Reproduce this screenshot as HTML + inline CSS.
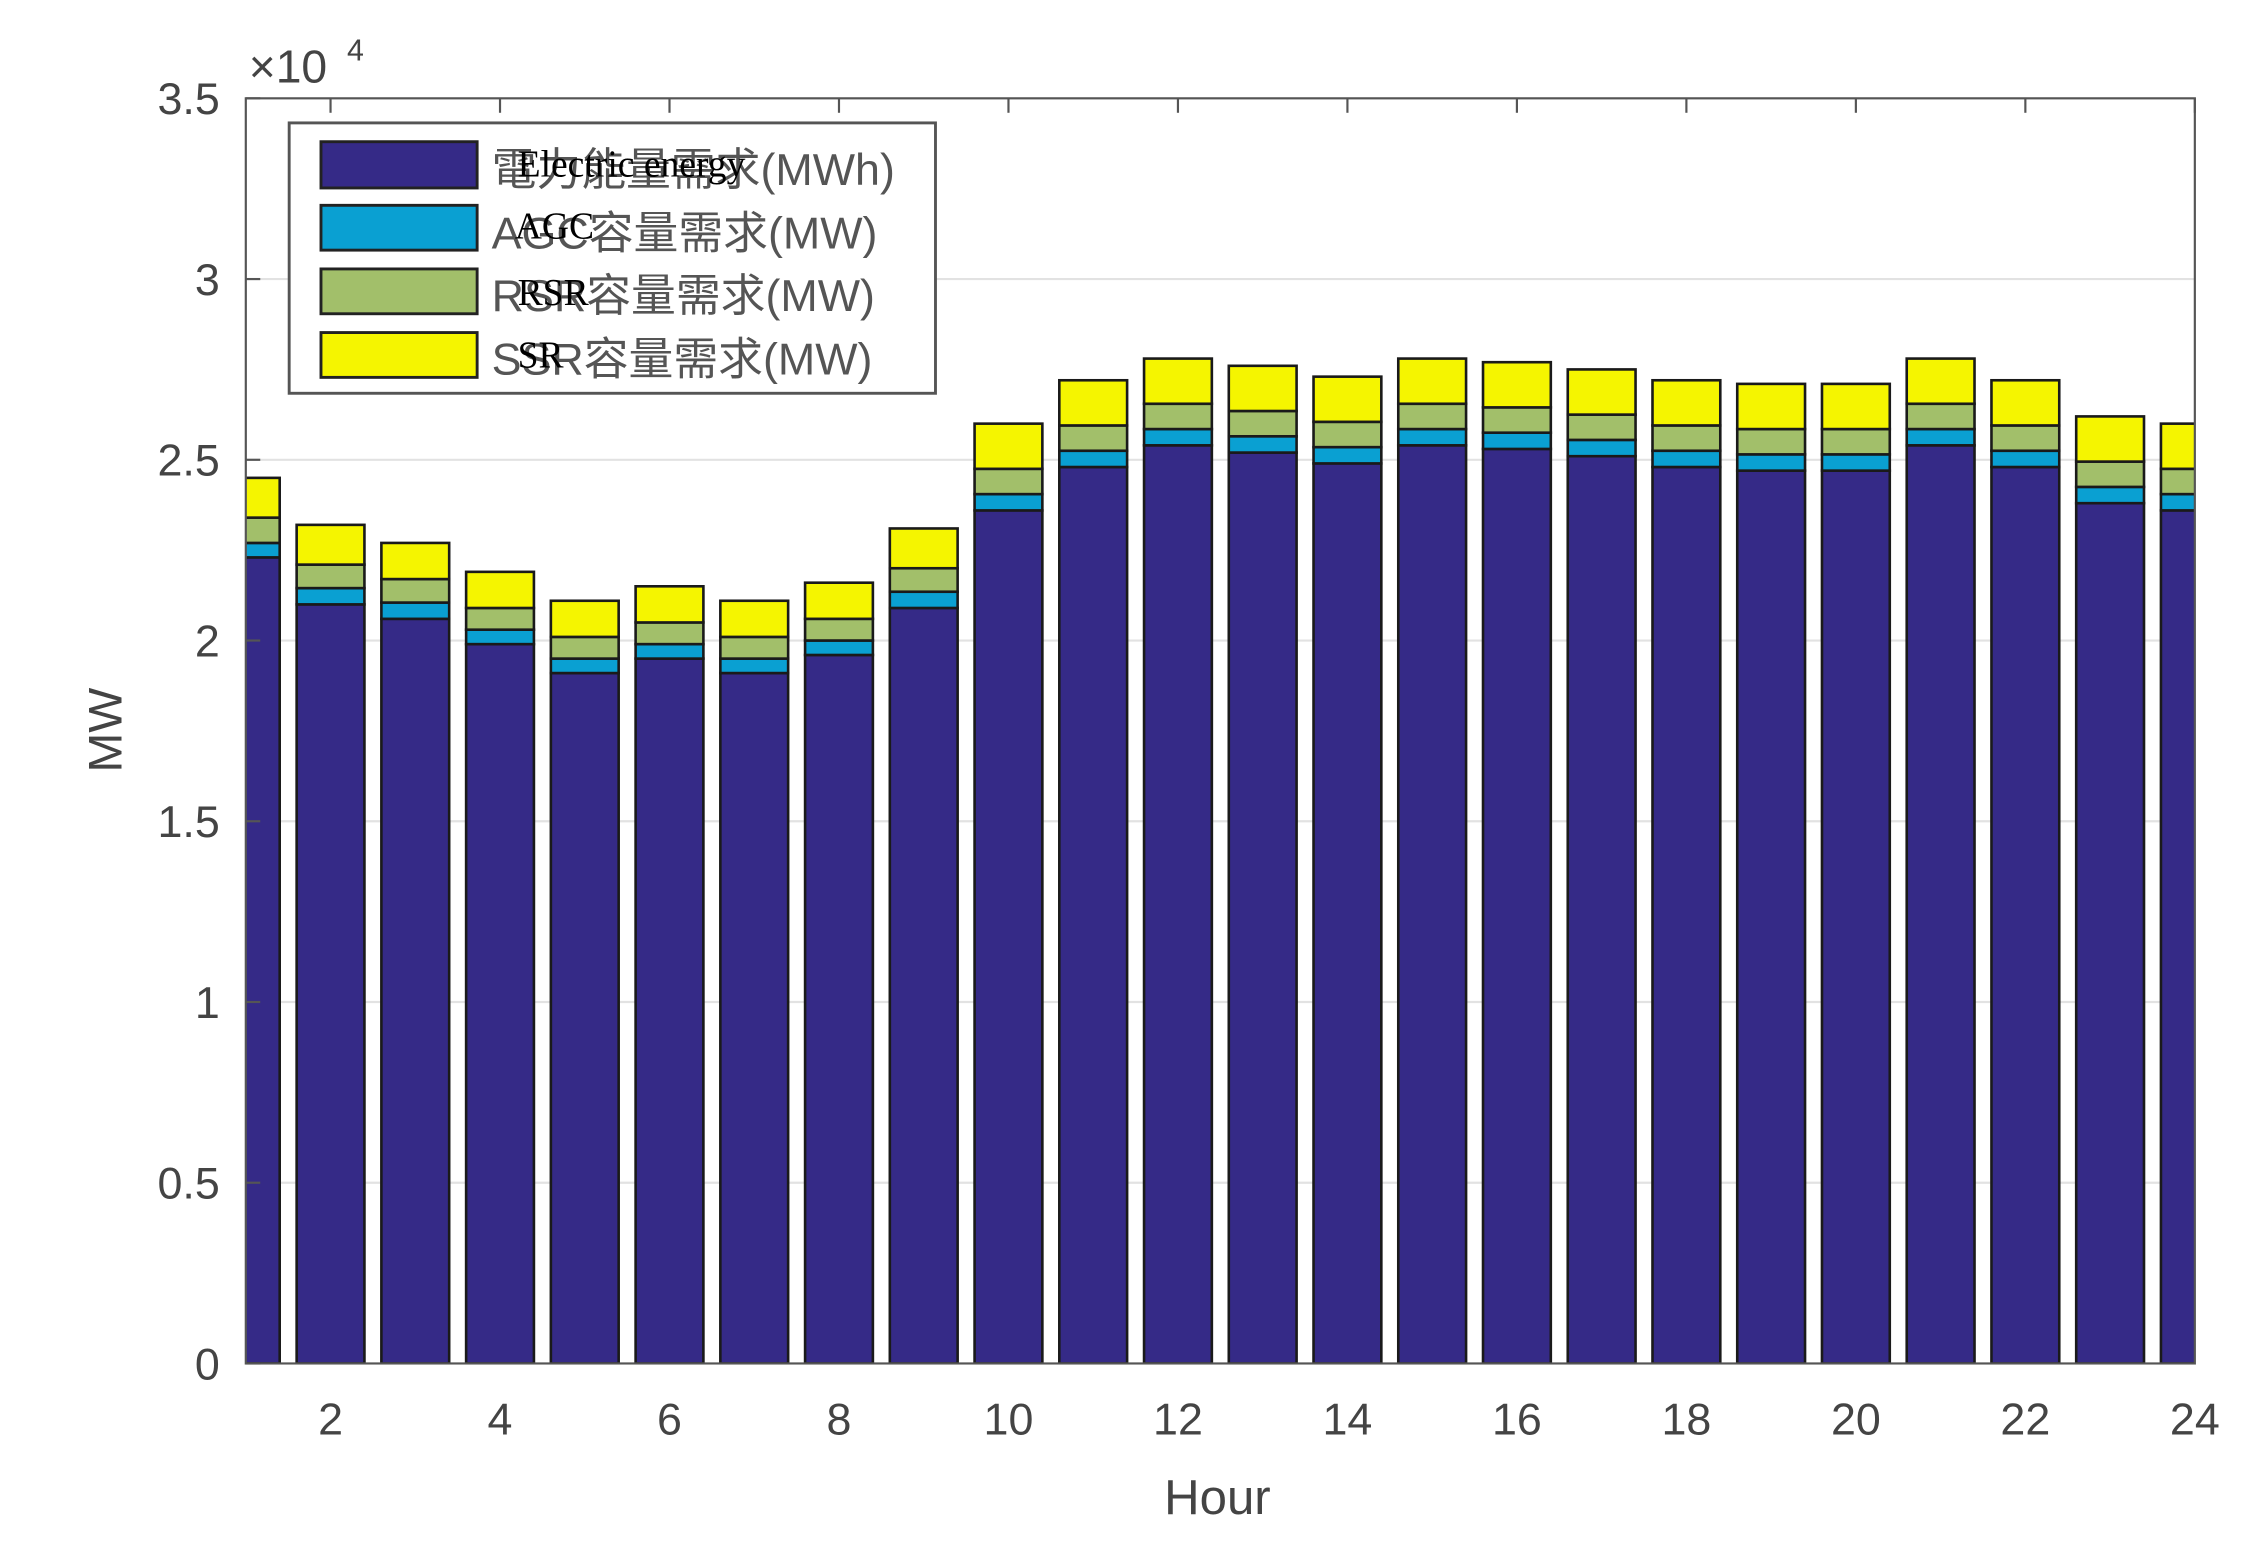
<!DOCTYPE html>
<html><head><meta charset="utf-8"><style>
html,body{margin:0;padding:0;background:#fff;}
svg{display:block;}
</style></head><body>
<svg id="chart" width="2244" height="1551" viewBox="0 0 1552 1072.7" xmlns="http://www.w3.org/2000/svg">
<rect x="0" y="0" width="1552" height="1073" fill="#fff"/>
<defs><clipPath id="plotclip"><rect x="170" y="68" width="1348" height="875"/></clipPath></defs>
<g id="grid"></g>
<g id="bars" clip-path="url(#plotclip)"></g>
<rect x="170" y="68" width="1348" height="875" fill="none" stroke="#555" stroke-width="1.5"/>
<g id="axes"></g>
<text x="172" y="57" font-family="Liberation Sans, sans-serif" font-size="32" fill="#444">×10</text>
<text x="240" y="42" font-family="Liberation Sans, sans-serif" font-size="21" fill="#444">4</text>
<text transform="translate(84,505) rotate(-90)" text-anchor="middle" font-family="Liberation Sans, sans-serif" font-size="33" fill="#444">MW</text>
<text x="842" y="1047" text-anchor="middle" font-family="Liberation Sans, sans-serif" font-size="34" fill="#444">Hour</text>
<g>
<rect x="200" y="85" width="447" height="187" fill="#fff" stroke="#555" stroke-width="2"/>
<g>
<rect x="222" y="98" width="108" height="32" fill="#352a87" stroke="#222" stroke-width="2"/>
<text x="340" y="128" font-family="Liberation Sans, Noto Sans CJK TC, sans-serif" font-size="31" fill="#555">電力能量需求(MWh)</text>
<text x="358" y="122" font-family="Liberation Serif, serif" font-size="26" fill="#000">Electric energy</text></g>
<g>
<rect x="222" y="142" width="108" height="31" fill="#0aa0d2" stroke="#222" stroke-width="2"/>
<text x="340" y="172" font-family="Liberation Sans, Noto Sans CJK TC, sans-serif" font-size="31" fill="#555">AGC容量需求(MW)</text>
<text x="356" y="165" font-family="Liberation Serif, serif" font-size="26" fill="#000">AGC</text></g>
<g>
<rect x="222" y="186" width="108" height="31" fill="#a2bf6a" stroke="#222" stroke-width="2"/>
<text x="340" y="215" font-family="Liberation Sans, Noto Sans CJK TC, sans-serif" font-size="31" fill="#555">RSR容量需求(MW)</text>
<text x="358" y="211" font-family="Liberation Serif, serif" font-size="26" fill="#000">RSR</text></g>
<g>
<rect x="222" y="230" width="108" height="31" fill="#f5f500" stroke="#222" stroke-width="2"/>
<text x="340" y="259" font-family="Liberation Sans, Noto Sans CJK TC, sans-serif" font-size="31" fill="#555">SSR容量需求(MW)</text>
<text x="358" y="254" font-family="Liberation Serif, serif" font-size="26" fill="#000">SR</text></g>
</g>
</svg>
<script>
const hours = [1,2,3,4,5,6,7,8,9,10,11,12,13,14,15,16,17,18,19,20,21,22,23,24];
const energy = [2.23,2.10,2.06,1.99,1.91,1.95,1.91,1.96,2.09,2.36,2.48,2.54,2.52,2.49,2.54,2.53,2.51,2.48,2.47,2.47,2.54,2.48,2.38,2.36];
const agc = [0.04,0.045,0.045,0.04,0.04,0.04,0.04,0.04,0.045,0.045,0.045,0.045,0.045,0.045,0.045,0.045,0.045,0.045,0.045,0.045,0.045,0.045,0.045,0.045];
const rsr = [0.07,0.065,0.065,0.06,0.06,0.06,0.06,0.06,0.065,0.07,0.07,0.07,0.07,0.07,0.07,0.07,0.07,0.07,0.07,0.07,0.07,0.07,0.07,0.07];
const ssr = [0.11,0.11,0.10,0.10,0.10,0.10,0.10,0.10,0.11,0.125,0.125,0.125,0.125,0.125,0.125,0.125,0.125,0.125,0.125,0.125,0.125,0.125,0.125,0.125];
const yTicks = [0,0.5,1,1.5,2,2.5,3,3.5];
const yTickLabels = ["0","0.5","1","1.5","2","2.5","3","3.5"];
const xTicks = [2,4,6,8,10,12,14,16,18,20,22,24];

const NS = "http://www.w3.org/2000/svg";
const L=170,R=1518,T=68,B=943, XMIN=1, XMAX=24, YMAX=3.5;
const xs = v => L + (v-XMIN)/(XMAX-XMIN)*(R-L);
const ys = v => B - v/YMAX*(B-T);
const bw = 0.8*(R-L)/(XMAX-XMIN);
function mk(tag, attrs, parent){const e=document.createElementNS(NS,tag);for(const k in attrs)e.setAttribute(k,attrs[k]);parent.appendChild(e);return e;}
const grid=document.getElementById('grid'), axes=document.getElementById('axes'), bars=document.getElementById('bars');
yTicks.forEach((t,i)=>{
  if(t>0&&t<YMAX){const g=mk('line',{x1:L,x2:R,y1:ys(t),y2:ys(t),stroke:'#e2e2e2','stroke-width':1.5},grid);
  
  }
  const tk=mk('line',{x1:L,x2:L+10,y1:ys(t),y2:ys(t),stroke:'#555','stroke-width':1.5},axes);
  
  
  const lb=mk('text',{x:152,y:ys(t)+11,'text-anchor':'end','font-family':'Liberation Sans, sans-serif','font-size':31,fill:'#444'},axes);
  lb.textContent=yTickLabels[i];
  
  
});
xTicks.forEach(t=>{
  const tk=mk('line',{x1:xs(t),x2:xs(t),y1:T,y2:T+10,stroke:'#555','stroke-width':1.5},axes);
  
  
  const lb=mk('text',{x:xs(t),y:992,'text-anchor':'middle','font-family':'Liberation Sans, sans-serif','font-size':31,fill:'#444'},axes);
  lb.textContent=String(t);
  
  
});
const series=[[energy,'#352a87','energy'],[agc,'#0aa0d2','agc'],[rsr,'#a2bf6a','rsr'],[ssr,'#f5f500','ssr']];
hours.forEach((h,i)=>{
  let base=0;
  series.forEach(([arr,col,nm])=>{
    const v=arr[i];
    const r=mk('rect',{x:xs(h)-bw/2,y:ys(base+v),width:bw,height:ys(base)-ys(base+v),fill:col,stroke:'#1a1a1a','stroke-width':1.8},bars);
    
    
    base+=v;
  });
});
</script>
</body></html>
